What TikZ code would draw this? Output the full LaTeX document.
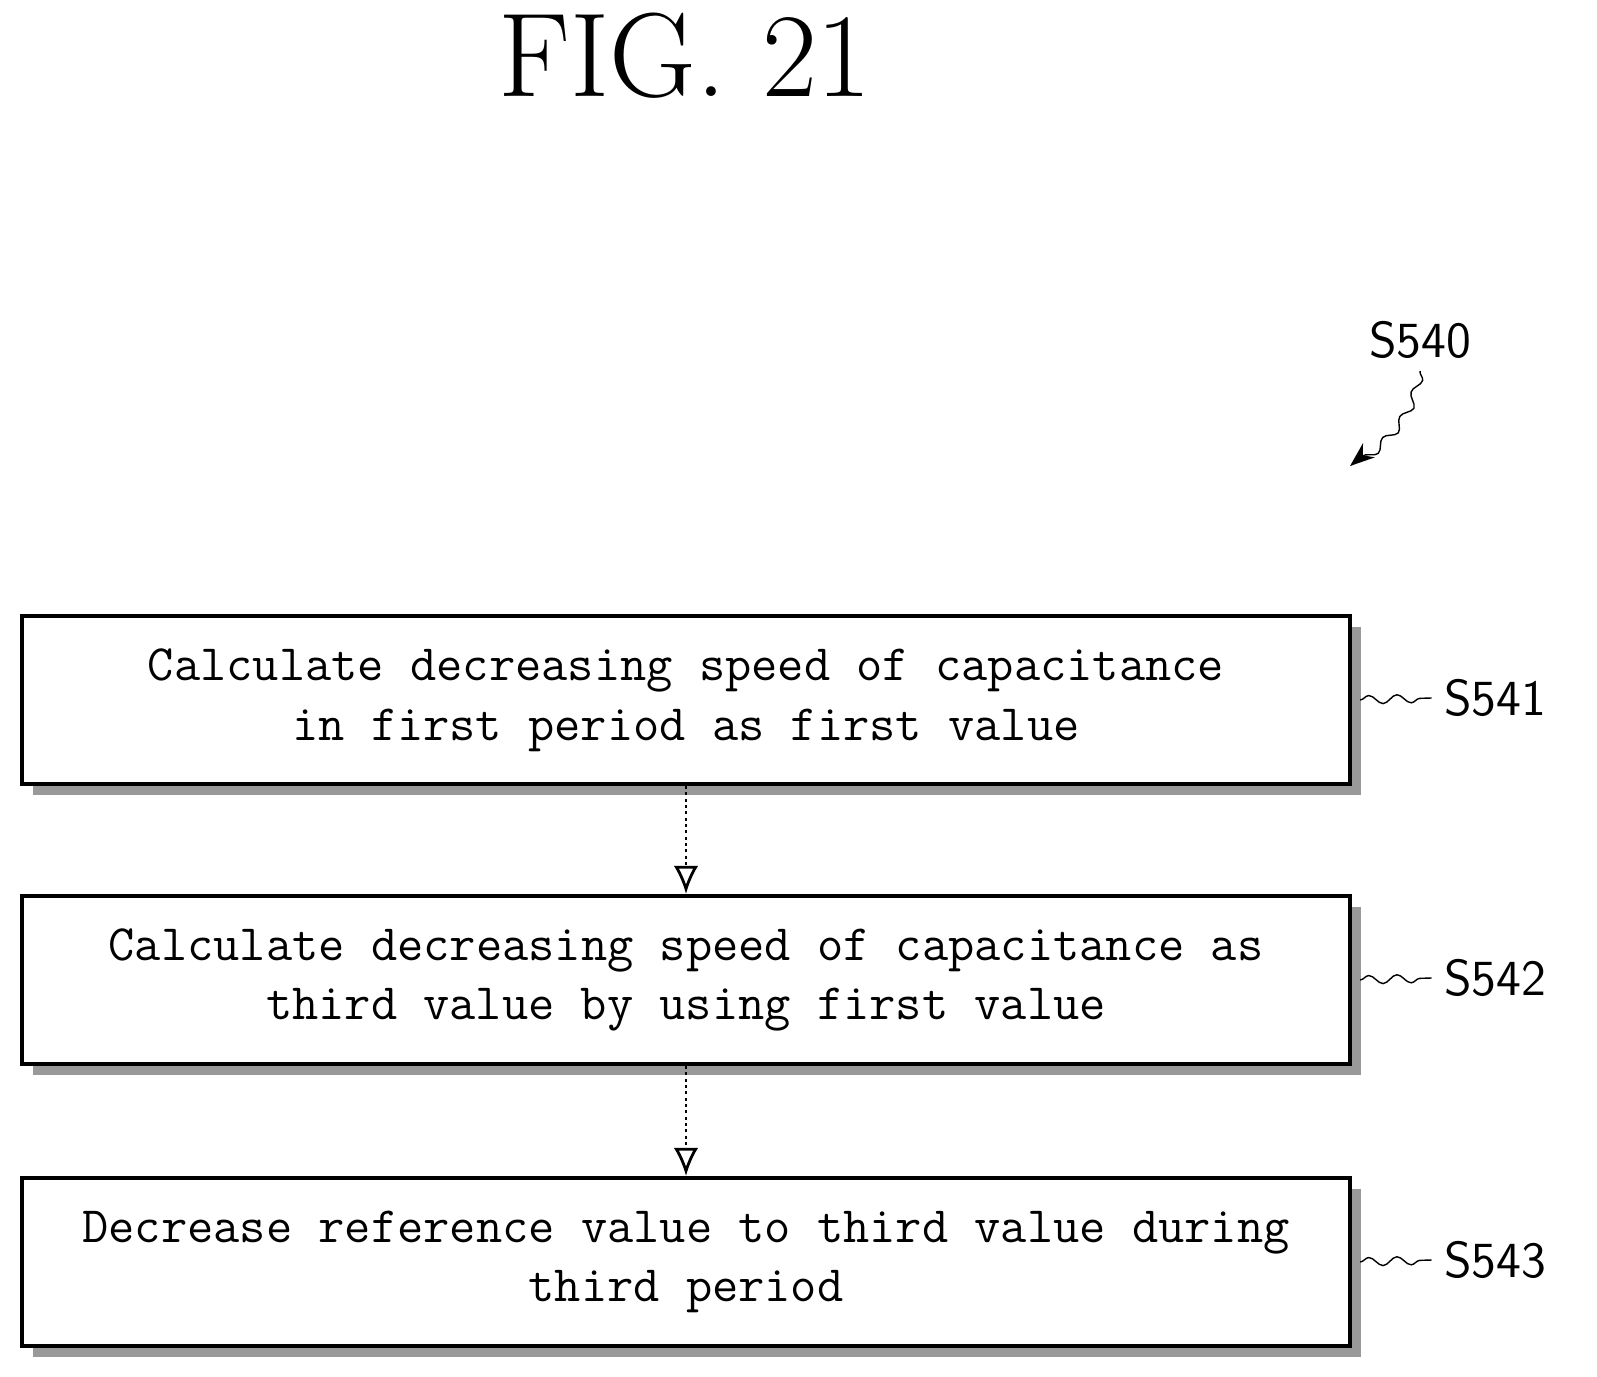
\documentclass[tikz,border=0pt]{standalone}
\usepackage{tikz}
\usetikzlibrary{calc,arrows.meta,shadows,decorations.pathmorphing}

\begin{document}
\begin{tikzpicture}[
            stepbox/.style={
              draw, line width=1.2pt, fill=white,
              minimum width=13.28cm, minimum height=1.68cm,
              font=\fontsize{14.5}{17}\selectfont\ttfamily,
              align=center,
              drop shadow={shadow xshift=3pt, shadow yshift=-3pt, fill=gray!80, opacity=1}
            },
            tag/.style={
              font=\sffamily\Large
            },
            squig/.style={
              decorate, decoration={snake, amplitude=1.2pt, segment length=8pt}
            }
        ]
\useasboundingbox (0,0) rectangle (15.97,13.76);
\def\xc{6.86}

\node[font=\fontsize{34}{40}\selectfont] (title) at (6.85, 13.2) {FIG.\ 21};

\foreach \i/\y/\n in {1/12.00/Calculate decreasing speed of capacitance\\in first period as first value,
                      2/9.20/Calculate decreasing speed of capacitance as\\third value by using first value,
                      3/6.38/Decrease reference value to third value during\\third period}
{
    \node[stepbox] (s\i) at (\xc, {\y-5.24}) {\n};
    \node[tag] (t\i) at (14.95, {\y-5.24+0.02}) {S54\i};
    \draw[squig] ($(s\i.east)+(0.08,0)$) -- (t\i.west);
}

\foreach \a/\b in {s1/s2, s2/s3}
    \draw[-{Latex[open,length=8pt,width=7pt]}, densely dotted, thick] (\a.south) -- (\b.north);

\node[tag] (top) at (14.2, 10.36) {S540};
\coordinate (tip) at (13.5, 9.1);
\draw[squig, -{Stealth[length=7pt]}] (top.south) to[out=-100, in=40] (tip);

\end{tikzpicture}
\end{document}
